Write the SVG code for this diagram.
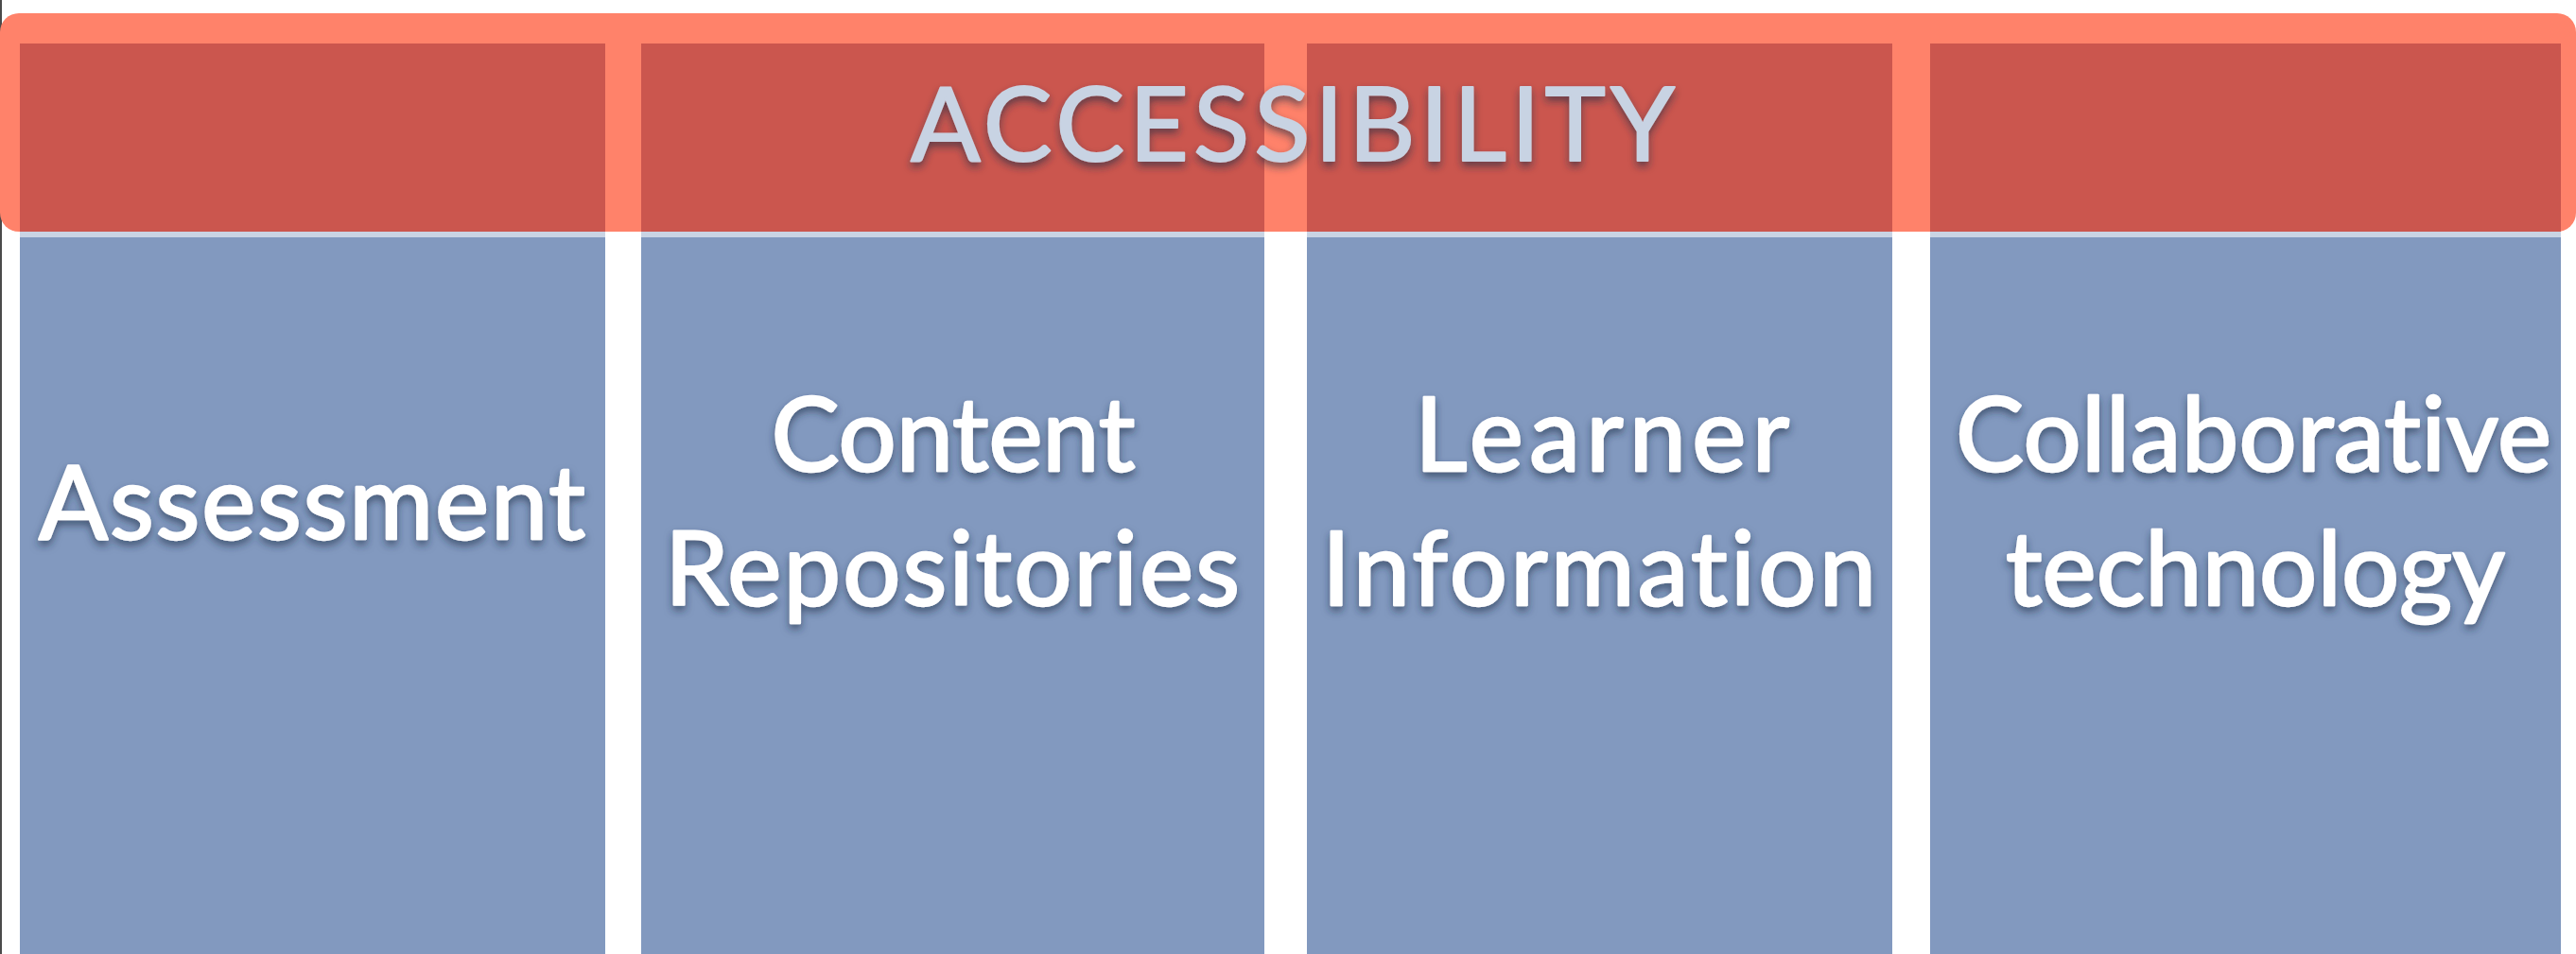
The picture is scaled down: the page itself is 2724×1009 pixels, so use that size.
<svg xmlns="http://www.w3.org/2000/svg" width="2724" height="1009" viewBox="0 0 2724 1009">
<defs>
<style>
.col{fill:#8299BF}
.band{fill:#CB564E}
.hl{fill:#C9D4E4}
.bar{fill:#FF826A}
.lbl{font-family:Lato,"Open Sans","DejaVu Sans",sans-serif;font-size:108px;fill:#FFFFFF;stroke:#FFFFFF;stroke-width:2.5;stroke-linejoin:round;text-anchor:middle;font-variant-ligatures:none;font-feature-settings:"liga" 0,"clig" 0;filter:url(#sh)}
.title{font-family:Lato,"Open Sans","DejaVu Sans",sans-serif;font-size:109px;fill:#C8D3E3;stroke:#C8D3E3;stroke-width:2;stroke-linejoin:round;text-anchor:middle;font-variant-ligatures:none;font-feature-settings:"liga" 0,"clig" 0;filter:url(#sh)}
</style>
<filter id="sh" x="-10%" y="-30%" width="120%" height="170%">
<feDropShadow dx="0" dy="5" stdDeviation="4" flood-color="#1c2b45" flood-opacity="0.6"/>
</filter>
</defs>
<rect x="0" y="0" width="2724" height="1009" fill="#FFFFFF"/>
<rect x="0" y="0" width="2" height="1009" fill="#4a4a4a"/>

<g id="columns-base">
<rect class="col" x="21" y="251" width="619" height="758"/>
<rect class="col" x="678" y="251" width="659" height="758"/>
<rect class="col" x="1382" y="251" width="619" height="758"/>
<rect class="col" x="2041" y="251" width="667" height="758"/>
<rect class="hl" x="21" y="245" width="619" height="6"/>
<rect class="hl" x="678" y="245" width="659" height="6"/>
<rect class="hl" x="1382" y="245" width="619" height="6"/>
<rect class="hl" x="2041" y="245" width="667" height="6"/>
</g>

<g id="accessibility">
<rect class="bar" x="0" y="14" width="2724" height="231" rx="20" ry="20"/>
<rect class="band" x="21" y="46" width="619" height="199"/>
<rect class="band" x="678" y="46" width="659" height="199"/>
<rect class="band" x="1382" y="46" width="619" height="199"/>
<rect class="band" x="2041" y="46" width="667" height="199"/>
<text class="title" x="1367" y="170" textLength="808" lengthAdjust="spacing">ACCESSIBILITY</text>
</g>

<g id="assessment">
<text class="lbl" x="330" y="570" textLength="578" lengthAdjust="spacing">Assessment</text>
</g>

<g id="content-repositories">
<text class="lbl" x="1008" y="498" textLength="385" lengthAdjust="spacing">Content</text>
<text class="lbl" x="1007" y="640" textLength="608" lengthAdjust="spacing">Repositories</text>
</g>

<g id="learner-information">
<text class="lbl" x="1694" y="498" textLength="396" lengthAdjust="spacing">Learner</text>
<text class="lbl" x="1691" y="640" textLength="586" lengthAdjust="spacing">Information</text>
</g>

<g id="collaborative-technology">
<text class="lbl" x="2383" y="498" textLength="630" lengthAdjust="spacing">Collaborative</text>
<text class="lbl" x="2385" y="640" textLength="528" lengthAdjust="spacing">technology</text>
</g>

<g id="connectors"></g>
</svg>
